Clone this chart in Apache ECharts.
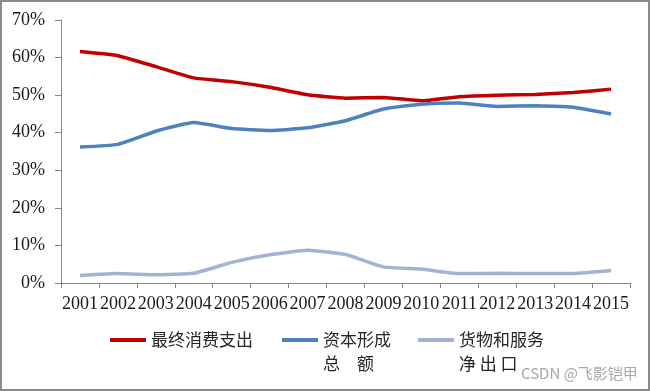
<!DOCTYPE html>
<html>
<head>
<meta charset="utf-8">
<script src="https://cdn.jsdelivr.net/npm/echarts@6/dist/echarts.min.js"></script>
<style>html,body{margin:0;padding:0;background:#fff;}#c{width:650px;height:391px;}</style>
</head>
<body>
<div id="c"></div>
<script>
const years = ['2001','2002','2003','2004','2005','2006','2007','2008','2009','2010','2011','2012','2013','2014','2015'];
const yTicks = [0, 10, 20, 30, 40, 50, 60, 70];
const consumption = [61.6, 60.5, 57.6, 54.6, 53.6, 52.1, 50.1, 49.2, 49.4, 48.5, 49.6, 50.0, 50.2, 50.7, 51.6];
const capital = [36.2, 36.9, 40.4, 42.7, 41.1, 40.6, 41.3, 43.2, 46.3, 47.6, 47.9, 47.0, 47.2, 46.8, 45.0];
const netExports = [2.0, 2.5, 2.2, 2.6, 5.5, 7.5, 8.7, 7.6, 4.3, 3.7, 2.5, 2.6, 2.5, 2.5, 3.3];
const names = ['最终消费支出', '资本形成总额', '货物和服务净出口'];
const legendLines = [['最终消费支出'], ['资本形成', '总　额'], ['货物和服务', '净 出 口']];
const colors = ['#C00000', '#4F81BD', '#A3B3D3'];

const chart = echarts.init(document.getElementById('c'), null, {renderer: 'canvas'});
const axisColor = '#868686';
const serif = '"Liberation Serif", "Times New Roman", serif';
const cjk = '"Noto Sans CJK SC", sans-serif';
const legendCenterY = 340;

function mkLegend(i, left) {
  const lines = legendLines[i];
  const multi = lines.length > 1;
  // an empty leading line keeps the first text line level with the legend icon
  const label = multi ? '\n' + lines.join('\n') : lines[0];
  return {
    left: left, top: multi ? legendCenterY - 36 : legendCenterY - 12,
    padding: 0,
    icon: 'rect', itemWidth: 36, itemHeight: 4,
    data: [names[i]],
    formatter: () => label,
    selectedMode: false,
    textStyle: {fontFamily: cjk, fontSize: 17, color: '#262626', lineHeight: 24}
  };
}

chart.setOption({
  animation: false,
  backgroundColor: '#fff',
  grid: {left: 61, right: 20, top: 20, bottom: 108, containLabel: false},
  xAxis: {
    type: 'category', data: years, boundaryGap: true,
    axisLine: {lineStyle: {color: axisColor, width: 1}},
    axisTick: {show: true, length: 5, lineStyle: {color: axisColor}},
    axisLabel: {fontFamily: serif, fontSize: 18, color: '#1a1a1a', margin: 12, interval: 0}
  },
  yAxis: {
    type: 'value', min: yTicks[0], max: yTicks[yTicks.length - 1], interval: 10,
    axisLine: {show: true, lineStyle: {color: axisColor, width: 1}},
    axisTick: {show: true, length: 6, lineStyle: {color: axisColor}},
    splitLine: {show: false},
    axisLabel: {fontFamily: serif, fontSize: 18, color: '#1a1a1a', margin: 16, formatter: '{value}%'}
  },
  legend: [mkLegend(0, 110), mkLegend(1, 282), mkLegend(2, 418)],
  series: [consumption, capital, netExports].map((d, i) => ({
    name: names[i], type: 'line', data: d, smooth: 0.15,
    showSymbol: false, symbol: 'none',
    lineStyle: {color: colors[i], width: 3.5},
    itemStyle: {color: colors[i]}
  })),
  graphic: [
    {type: 'rect', shape: {x: 1, y: 1, width: 648, height: 389}, style: {fill: null, stroke: '#8a8a8a', lineWidth: 2}, silent: true},
    {type: 'text', left: 521, top: 366, style: {text: 'CSDN @飞影铠甲', fontFamily: cjk, fontSize: 15, fill: '#a8a8a8'}, silent: true}
  ]
});
</script>
</body>
</html>
